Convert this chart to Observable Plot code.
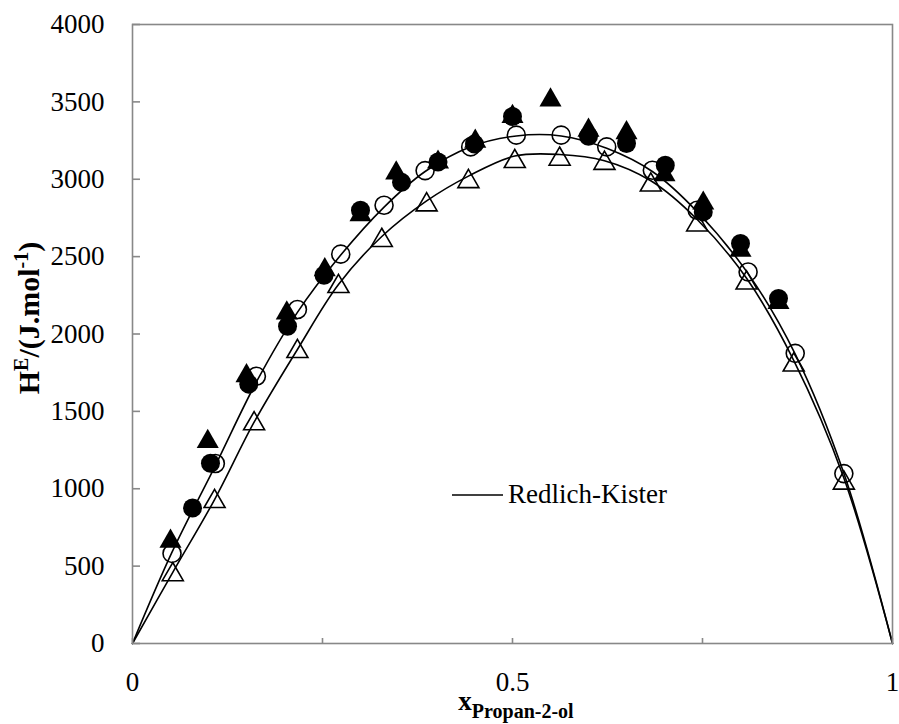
<!DOCTYPE html>
<html>
<head>
<meta charset="utf-8">
<script src="https://cdn.jsdelivr.net/npm/d3@7"></script>
<script src="https://cdn.jsdelivr.net/npm/@observablehq/plot@0.6"></script>
<style>
  html, body { margin: 0; padding: 0; background: white; }
  #chart { width: 899px; height: 724px; }
</style>
</head>
<body>
<div id="chart"></div>
<script>
// ---- Data ----
// Filled triangles
const filledTriX = [0.050, 0.099, 0.150, 0.203, 0.253, 0.300, 0.347, 0.402, 0.451, 0.500, 0.550, 0.600, 0.650, 0.700, 0.751, 0.800, 0.850];
const filledTriY = [660, 1305, 1730, 2135, 2415, 2770, 3040, 3110, 3245, 3405, 3512, 3316, 3300, 3028, 2845, 2540, 2202];
// Filled circles
const filledCircX = [0.079, 0.1026, 0.153, 0.204, 0.252, 0.300, 0.354, 0.402, 0.450, 0.500, 0.600, 0.650, 0.701, 0.751, 0.800, 0.850];
const filledCircY = [876, 1165, 1676, 2050, 2380, 2800, 2980, 3112, 3227, 3405, 3278, 3231, 3091, 2789, 2585, 2229];
// Open circles
const openCircX = [0.052, 0.109, 0.163, 0.217, 0.274, 0.331, 0.385, 0.445, 0.505, 0.564, 0.624, 0.684, 0.743, 0.810, 0.872, 0.936];
const openCircY = [582, 1163, 1727, 2158, 2516, 2832, 3056, 3209, 3285, 3285, 3209, 3058, 2800, 2401, 1875, 1098];
// Open triangles
const openTriX = [0.053, 0.108, 0.160, 0.217, 0.271, 0.328, 0.387, 0.442, 0.503, 0.562, 0.621, 0.682, 0.743, 0.808, 0.870, 0.936];
const openTriY = [445, 918, 1420, 1887, 2307, 2605, 2835, 2985, 3115, 3130, 3103, 2963, 2705, 2330, 1800, 1037];
// Redlich-Kister curves
const rkCircX = [0, 0.052, 0.109, 0.163, 0.217, 0.274, 0.331, 0.385, 0.445, 0.505, 0.564, 0.624, 0.684, 0.743, 0.810, 0.872, 0.936, 1];
const rkCircY = [0, 590, 1150, 1690, 2140, 2510, 2820, 3050, 3210, 3280, 3280, 3200, 3050, 2790, 2390, 1870, 1100, 0];
const rkTriX = [0, 0.053, 0.108, 0.160, 0.217, 0.271, 0.328, 0.387, 0.442, 0.503, 0.562, 0.621, 0.682, 0.743, 0.808, 0.870, 0.936, 1];
const rkTriY = [0, 460, 930, 1430, 1900, 2320, 2630, 2860, 3020, 3150, 3160, 3120, 2990, 2740, 2360, 1830, 1070, 0];
// Ticks
const xTicks = [0, 0.25, 0.5, 0.75, 1];
const xTickLabels = [0, 0.5, 1];
const yTicks = [0, 500, 1000, 1500, 2000, 2500, 3000, 3500, 4000];
const legendLabel = "Redlich-Kister";

const zip = (xs, ys) => xs.map((x, i) => ({x, y: ys[i]}));
const filledTri = zip(filledTriX, filledTriY);
const filledCirc = zip(filledCircX, filledCircY);
const openCirc = zip(openCircX, openCircY);
const openTri = zip(openTriX, openTriY);
const rkCirc = zip(rkCircX, rkCircY);
const rkTri = zip(rkTriX, rkTriY);

const FONT = "'Liberation Serif', 'Times New Roman', Times, serif";
const AXIS = "#888888";

const chart = Plot.plot({
  width: 899,
  height: 724,
  marginLeft: 132,
  marginRight: 7,
  marginTop: 24,
  marginBottom: 81,
  x: {domain: [0, 1]},
  y: {domain: [0, 4000]},
  style: {fontFamily: FONT, fontSize: "27px", color: "black", background: "white", overflow: "visible"},
  marks: [
    Plot.line(rkCirc, {x: "x", y: "y", curve: "catmull-rom", stroke: "black", strokeWidth: 1.6}),
    Plot.line(rkTri, {x: "x", y: "y", curve: "catmull-rom", stroke: "black", strokeWidth: 1.6}),
    Plot.dot(openTri, {x: "x", y: "y", symbol: "triangle", r: 7.8, fill: "none", stroke: "black", strokeWidth: 1.6}),
    Plot.dot(openCirc, {x: "x", y: "y", symbol: "circle", r: 9, fill: "none", stroke: "black", strokeWidth: 1.6}),
    Plot.dot(filledCirc, {x: "x", y: "y", symbol: "circle", r: 9.5, fill: "black", stroke: "none"}),
    Plot.dot(filledTri, {x: "x", y: "y", symbol: "triangle", r: 8.2, fill: "black", stroke: "none"}),
    Plot.frame({stroke: AXIS, strokeWidth: 1.6}),
    Plot.axisX({ticks: xTicks, tickSize: -5, tickFormat: () => "", stroke: AXIS, strokeWidth: 1.6, label: null}),
    Plot.axisX({ticks: xTickLabels, tickSize: 0, tickPadding: 28, tickFormat: d => String(d), fill: "black", label: null}),
    Plot.axisY({ticks: yTicks, tickSize: -8, tickFormat: () => "", stroke: AXIS, strokeWidth: 1.6, label: null}),
    Plot.axisY({ticks: yTicks, tickSize: 0, tickPadding: 28, tickFormat: d => String(d), fill: "black", label: null})
  ]
});

document.getElementById("chart").appendChild(chart);

// Titles and legend as real text
const svg = d3.select(chart);

// Y-axis title
const yt = svg.append("text")
  .attr("transform", "translate(39,318) rotate(-90)")
  .attr("text-anchor", "middle")
  .attr("font-family", FONT)
  .attr("font-weight", "bold")
  .attr("font-size", 30)
  .attr("fill", "black");
yt.append("tspan").text("H");
yt.append("tspan").attr("font-size", 20).attr("dy", -11).text("E");
yt.append("tspan").attr("dy", 11).text("/(J.mol");
yt.append("tspan").attr("font-size", 20).attr("dy", -11).text("-1");
yt.append("tspan").attr("dy", 11).text(")");

// X-axis title
const xt = svg.append("text")
  .attr("x", 516)
  .attr("y", 710)
  .attr("text-anchor", "middle")
  .attr("font-family", FONT)
  .attr("font-weight", "bold")
  .attr("fill", "black");
xt.append("tspan").attr("font-size", 27).text("x");
xt.append("tspan").attr("font-size", 20).attr("dy", 8).text("Propan-2-ol");

// Legend
svg.append("line")
  .attr("x1", 452).attr("x2", 503)
  .attr("y1", 495).attr("y2", 495)
  .attr("stroke", "black").attr("stroke-width", 1.6);
svg.append("text")
  .attr("x", 508).attr("y", 503)
  .attr("text-anchor", "start")
  .attr("font-family", FONT)
  .attr("font-size", 27)
  .attr("fill", "black")
  .text(legendLabel);
</script>
</body>
</html>
